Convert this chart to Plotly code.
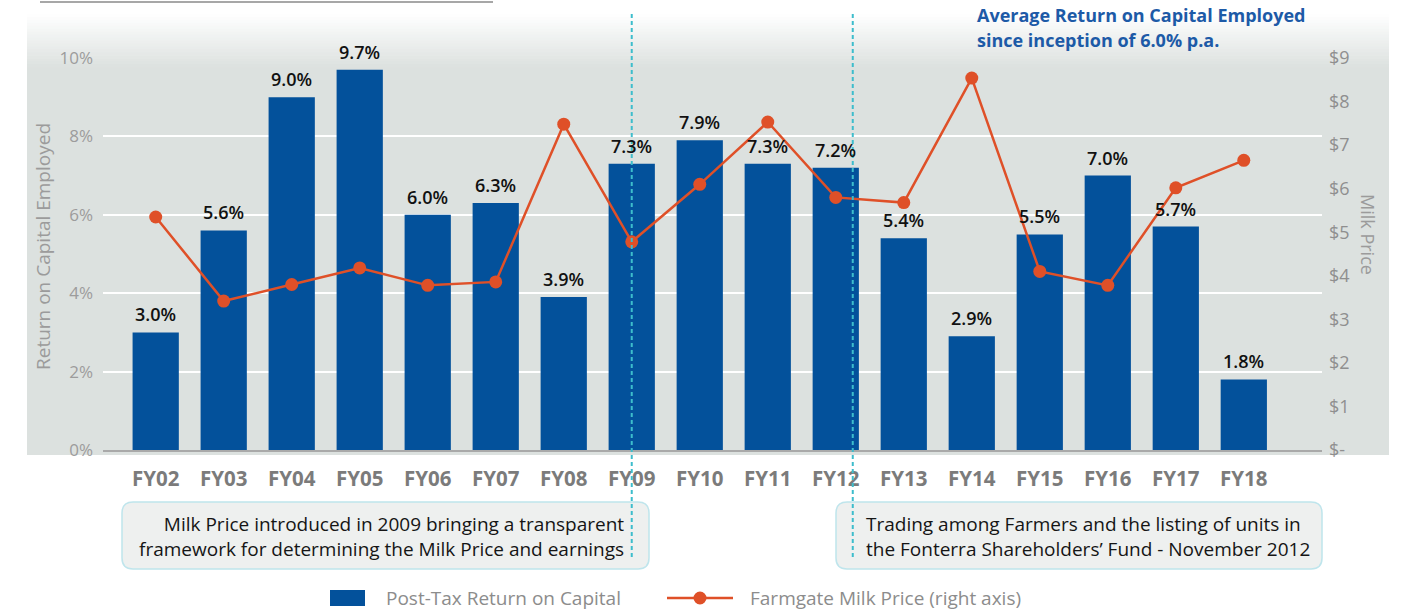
import plotly.graph_objects as go

years = ["FY02", "FY03", "FY04", "FY05", "FY06", "FY07", "FY08", "FY09", "FY10",
         "FY11", "FY12", "FY13", "FY14", "FY15", "FY16", "FY17", "FY18"]
roce = [3.0, 5.6, 9.0, 9.7, 6.0, 6.3, 3.9, 7.3, 7.9, 7.3, 7.2, 5.4, 2.9, 5.5, 7.0, 5.7, 1.8]
milk_price = [5.35, 3.42, 3.80, 4.18, 3.78, 3.86, 7.48, 4.78, 6.10, 7.53, 5.80, 5.68,
              8.54, 4.10, 3.78, 6.02, 6.65]

left_ticks = [0, 2, 4, 6, 8, 10]
left_labels = ["0%", "2%", "4%", "6%", "8%", "10%"]
right_ticks = [0, 1, 2, 3, 4, 5, 6, 7, 8, 9]
right_labels = ["$-", "$1", "$2", "$3", "$4", "$5", "$6", "$7", "$8", "$9"]

BLUE = "#03519b"
ORANGE = "#df5028"
TEAL = "#3dbdcc"
BG = "#dce1df"
FONT = "Open Sans"

# plot area in pixels
L, R, T, B = 103, 1322, 58, 450
W, H = 1404, 612


def px(x):
    return (x - L) / (R - L)


def py(y):
    return (B - y) / (B - T)


def rounded_box(x0, y0, x1, y1, r):
    # rounded rectangle path in paper units
    pts = [
        f"M {px(x0 + r)},{py(y0)}",
        f"L {px(x1 - r)},{py(y0)}",
        f"Q {px(x1)},{py(y0)} {px(x1)},{py(y0 + r)}",
        f"L {px(x1)},{py(y1 - r)}",
        f"Q {px(x1)},{py(y1)} {px(x1 - r)},{py(y1)}",
        f"L {px(x0 + r)},{py(y1)}",
        f"Q {px(x0)},{py(y1)} {px(x0)},{py(y1 - r)}",
        f"L {px(x0)},{py(y0 + r)}",
        f"Q {px(x0)},{py(y0)} {px(x0 + r)},{py(y0)}",
        "Z",
    ]
    return " ".join(pts)


fig = go.Figure()

fig.add_trace(go.Bar(
    x=years, y=roce, name="Post-Tax Return on Capital",
    marker=dict(color=BLUE, line=dict(width=0)),
    width=0.68, yaxis="y",
))

fig.add_trace(go.Scatter(
    x=years, y=milk_price, name="Farmgate Milk Price (right axis)",
    mode="lines+markers", yaxis="y2",
    line=dict(color=ORANGE, width=2.5),
    marker=dict(color=ORANGE, size=13),
))

shapes = []

# grey panel with a white-to-grey fade at the top
shapes.append(dict(type="rect", xref="paper", yref="paper",
                   x0=px(27), x1=px(1389), y0=py(455), y1=py(66),
                   fillcolor=BG, line=dict(width=0), layer="below"))
steps = 18
top, bot = 14, 67
c0 = (255, 255, 255)
c1 = (220, 225, 223)
for i in range(steps):
    t = (i + 0.5) / steps
    col = tuple(round(c0[k] + (c1[k] - c0[k]) * t) for k in range(3))
    ya = top + (bot - top) * i / steps
    yb = top + (bot - top) * (i + 1) / steps + 0.6
    shapes.append(dict(type="rect", xref="paper", yref="paper",
                       x0=px(27), x1=px(1389), y0=py(yb), y1=py(ya),
                       fillcolor="rgb(%d,%d,%d)" % col, line=dict(width=0), layer="below"))

# thin rule at the very top
shapes.append(dict(type="line", xref="paper", yref="paper",
                   x0=px(40), x1=px(493), y0=py(2), y1=py(2),
                   line=dict(color="#8a8a8a", width=1.5)))

# event markers
for xv in [7, 10.25]:
    shapes.append(dict(type="line", xref="x", yref="paper",
                       x0=xv, x1=xv, y0=py(14), y1=py(560),
                       line=dict(color=TEAL, width=2, dash="4px,3px")))

# note boxes
for (x0, x1) in [(122, 649), (836, 1322)]:
    shapes.append(dict(type="path", xref="paper", yref="paper",
                       path=rounded_box(x0, 502, x1, 569, 11),
                       fillcolor="#eef0ef", line=dict(color="#bfe5ec", width=1.5),
                       layer="below"))

# legend swatches
shapes.append(dict(type="rect", xref="paper", yref="paper",
                   x0=px(330), x1=px(365), y0=py(606), y1=py(590),
                   fillcolor=BLUE, line=dict(width=0)))
shapes.append(dict(type="line", xref="paper", yref="paper",
                   x0=px(667), x1=px(733), y0=py(598), y1=py(598),
                   line=dict(color=ORANGE, width=2.5)))
shapes.append(dict(type="circle", xref="paper", yref="paper",
                   x0=px(693.5), x1=px(706.5), y0=py(604.5), y1=py(591.5),
                   fillcolor=ORANGE, line=dict(width=0)))

annotations = []

# bar value labels
for yr, v in zip(years, roce):
    annotations.append(dict(
        x=yr, y=v, xref="x", yref="y", text=f"{v:.1f}%", showarrow=False,
        yanchor="middle", yshift=18,
        font=dict(family=FONT, size=18, color="#111111", weight=600),
    ))


def note(x, y, text, size, color, xanchor="center", align="center", angle=0):
    return dict(x=px(x), y=py(y), xref="paper", yref="paper", text=text,
                xanchor=xanchor, yanchor="middle", align=align, textangle=angle,
                showarrow=False, font=dict(family=FONT, size=size, color=color))


annotations += [
    note(975, 15, "<b>Average Return on Capital Employed</b>", 18, "#1d5aa7", "left", "left"),
    note(975, 40, "<b>since inception of 6.0% p.a.</b>", 18, "#1d5aa7", "left", "left"),
    note(43, 247, "Return on Capital Employed", 19, "#9b9b9b", angle=-90),
    note(1368, 234, "Milk Price", 18, "#9b9b9b", angle=90),
    note(626, 536, "Milk Price introduced in 2009 bringing a transparent<br>"
                   "framework for determining the Milk Price and earnings",
         19, "#151515", "right", "right"),
    note(864, 536, "Trading among Farmers and the listing of units in<br>"
                   "the Fonterra Shareholders\u2019 Fund - November 2012",
         19, "#151515", "left", "left"),
    note(384, 598, "Post-Tax Return on Capital", 19, "#8c8c8c", "left", "left"),
    note(748, 598, "Farmgate Milk Price (right axis)", 19, "#8c8c8c", "left", "left"),
]

fig.update_layout(
    width=W, height=H,
    autosize=False,
    margin=dict(l=L, r=W - R, t=T, b=H - B, pad=0),
    paper_bgcolor="white",
    plot_bgcolor="rgba(0,0,0,0)",
    showlegend=False,
    font=dict(family=FONT),
    xaxis=dict(
        type="category", range=[-0.775, 17.15],
        showgrid=False, zeroline=False,
        showline=True, linecolor="#a9a9a9", linewidth=1.5,
        ticks="", ticklabelstandoff=10,
        tickfont=dict(family=FONT, size=20.5, color="#7b7b7b", weight="bold"),
    ),
    yaxis=dict(
        range=[0, 10], tickvals=left_ticks, ticktext=left_labels,
        showgrid=True, gridcolor="white", gridwidth=1.5,
        zeroline=False, showline=False, ticks="",
        ticklabelstandoff=9,
        tickfont=dict(family=FONT, size=17, color="#9c9c9c"),
    ),
    yaxis2=dict(
        range=[0, 9], tickvals=right_ticks, ticktext=right_labels,
        overlaying="y", side="right",
        showgrid=False, zeroline=False, showline=False, ticks="",
        ticklabelstandoff=6,
        tickfont=dict(family=FONT, size=18, color="#8f8f8f"),
    ),
    shapes=shapes,
    annotations=annotations,
)

fig.write_html("out.html", config={"displayModeBar": False},
               post_script="document.body.style.margin='0';")
